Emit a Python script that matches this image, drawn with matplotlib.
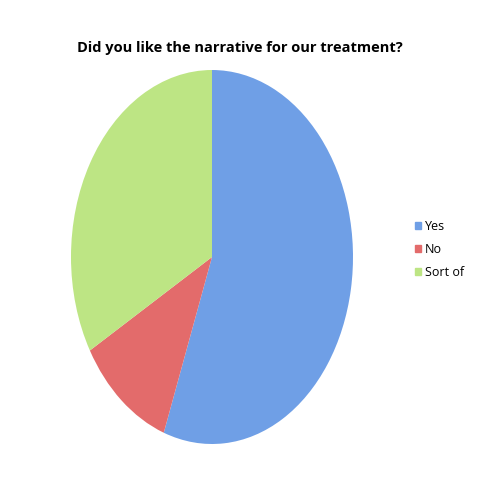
import matplotlib.pyplot as plt
from matplotlib.patches import Patch

labels = ["Yes", "No", "Sort of"]
values = [5, 1, 3]
colors = ["#6f9fe6", "#e36b6b", "#bde584"]

fig = plt.figure(figsize=(4.8, 4.8), dpi=100)
ax = fig.add_axes([71/480, 36/480, 282/480, 374/480])
ax.pie(values, colors=colors, startangle=90, counterclock=False, radius=1)
ax.set_aspect('auto')
ax.set_xlim(-1, 1)
ax.set_ylim(-1, 1)
ax.axis('off')

fig.text(0.5, 0.9, "Did you like the narrative for our treatment?",
         ha='center', va='center', fontsize=10.5, fontweight='bold',
         family='Open Sans')

handles = [Patch(color=c) for c in colors]
fig.legend(handles, labels, loc='center left', bbox_to_anchor=(0.865, 0.48),
           frameon=False, handlelength=0.5, handleheight=0.5,
           handletextpad=0.3, labelspacing=0.8, borderaxespad=0, borderpad=0,
           prop={'family': 'Open Sans', 'size': 9})

fig.savefig("out.png", dpi=100)
